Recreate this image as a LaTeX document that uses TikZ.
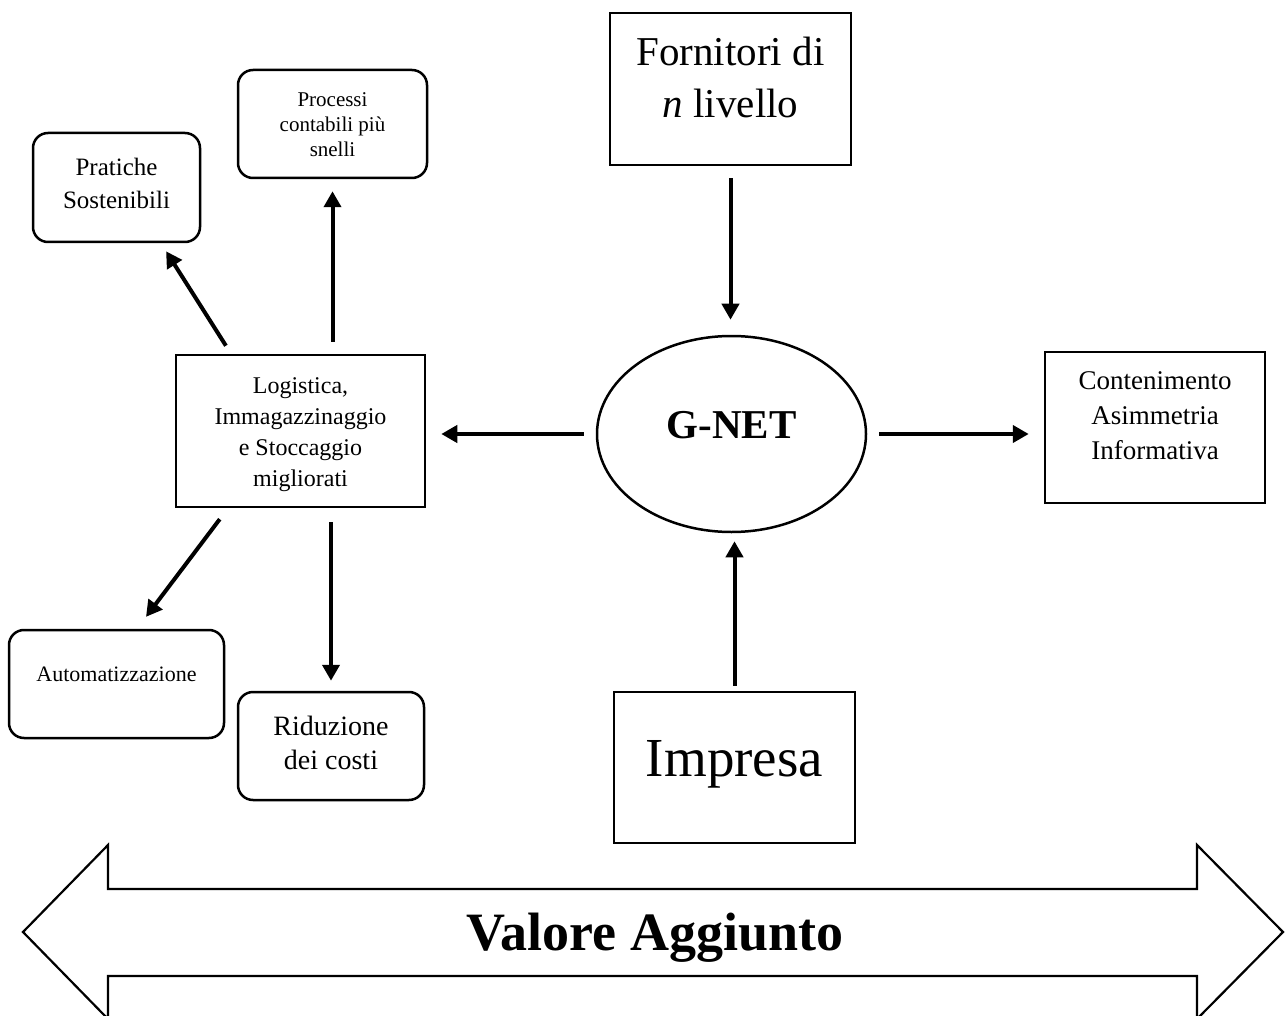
\documentclass[tikz,border=0pt]{standalone}
\usepackage{fontspec}
\setmainfont{Liberation Serif}
\usetikzlibrary{arrows.meta,shapes.geometric}

\begin{document}
\begin{tikzpicture}[x=1pt,y=-1pt,
  roundbox/.style={draw, line width=2.5pt, rounded corners=15pt, inner sep=0pt},
  sqbox/.style={draw, line width=2.5pt, inner sep=0pt},
  lbl/.style={inner sep=0pt, align=center},
  arr/.style={line width=4pt, -{Triangle[length=16pt,width=17pt]}},
]
\clip (0,0) rectangle (1285,1016);

% boxes
\node[roundbox, minimum width=189pt, minimum height=108pt] (proc) at (332.5,124) {};
\node[roundbox, minimum width=167pt, minimum height=109pt] (prat) at (116.5,187.5) {};
\node[sqbox, minimum width=249pt, minimum height=152pt] (log) at (300.5,431) {};
\node[roundbox, minimum width=215pt, minimum height=108pt] (auto) at (116.5,684) {};
\node[roundbox, minimum width=186pt, minimum height=108pt] (rid) at (331,746) {};
\node[sqbox, minimum width=241pt, minimum height=152pt] (forn) at (730.5,89) {};
\node[ellipse, draw, line width=2.5pt, inner sep=0pt, minimum width=269pt, minimum height=196pt] (gnet) at (731.5,434) {};
\node[sqbox, minimum width=220pt, minimum height=151pt] (cont) at (1155,427.5) {};
\node[sqbox, minimum width=241pt, minimum height=151pt] (imp) at (734.5,767.5) {};

% texts
\node[lbl, font=\fontsize{21}{25}\selectfont] (procT) at (332.5,125) {Processi\\contabili più\\snelli};
\node[lbl, font=\fontsize{25}{33}\selectfont] (pratT) at (116.5,183) {Pratiche\\Sostenibili};
\node[lbl, font=\fontsize{24}{31}\selectfont] (logT) at (300.5,434.5) {Logistica,\\Immagazzinaggio\\e Stoccaggio\\migliorati};
\node[lbl, font=\fontsize{22}{26}\selectfont] (autoT) at (116.5,674.5) {Automatizzazione};
\node[lbl, font=\fontsize{28}{34}\selectfont] (ridT) at (331,742.5) {Riduzione\\dei costi};
\node[lbl, font=\fontsize{41}{52}\selectfont] (fornT) at (730.5,77.5) {Fornitori di\\\textit{n} livello};
\node[lbl, font=\fontsize{41}{48}\selectfont\bfseries] (gnetT) at (731.5,425) {G-NET};
\node[lbl, font=\fontsize{27}{35}\selectfont] (contT) at (1155,415.5) {Contenimento\\Asimmetria\\Informativa};
\node[lbl, font=\fontsize{55}{60}\selectfont] (impT) at (734.5,764.5) {Impresa};

% connectors
\draw[arr, shorten <=12pt, shorten >=12pt] (log.north -| proc.south) -- (proc.south);
\draw[arr, shorten <=9.5pt, shorten >=9.5pt] ([xshift=-69.5pt]log.north) -- ([xshift=44.5pt]prat.south);
\draw[arr, shorten <=13.7pt, shorten >=14.9pt] ([xshift=-72.5pt]log.south) -- ([xshift=20.5pt]auto.north);
\draw[arr, shorten <=14pt, shorten >=10pt] (log.south -| rid.north) -- (rid.north);
\draw[arr, shorten <=12pt, shorten >=15pt] (gnet.west) -- (gnet.west -| log.east);
\draw[arr, shorten <=12pt, shorten >=15pt] (gnet.east) -- (gnet.east -| cont.west);
\draw[arr, shorten <=12pt, shorten >=15pt] (forn.south) -- (forn.south |- gnet.north);
\draw[arr, shorten <=5pt, shorten >=8pt] (imp.north) -- (imp.north |- gnet.south);

% double-headed band
\draw[line width=2.2pt, line join=miter]
  (23,932) -- (108,845) -- (108,889) -- (1197,889) -- (1197,845) -- (1283,932)
  -- (1197,1019) -- (1197,976) -- (108,976) -- (108,1019) -- cycle;
\node[lbl, font=\fontsize{54}{60}\selectfont\bfseries] (va) at (655,937.5) {Valore Aggiunto};
\end{tikzpicture}
\end{document}
